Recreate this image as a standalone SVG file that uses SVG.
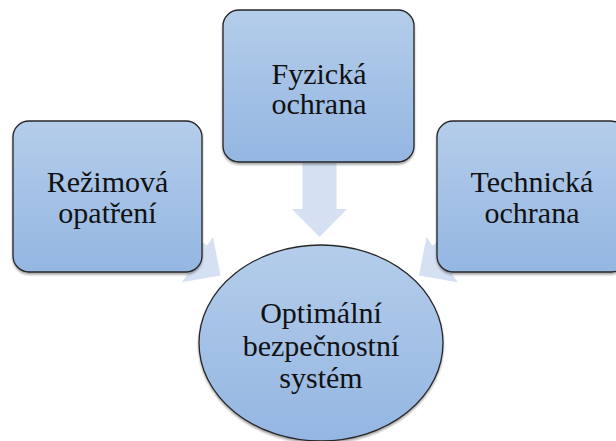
<svg xmlns="http://www.w3.org/2000/svg" width="616" height="441" viewBox="0 0 616 441">
  <defs>
    <linearGradient id="fillGrad" x1="0" y1="0" x2="0" y2="1">
      <stop offset="0" stop-color="#b4cdea"/>
      <stop offset="1" stop-color="#94b6e2"/>
    </linearGradient>
    <filter id="shade" x="-10%" y="-10%" width="120%" height="125%">
      <feGaussianBlur in="SourceAlpha" stdDeviation="1.2"/>
      <feOffset dx="0" dy="1.5" result="b"/>
      <feComponentTransfer><feFuncA type="linear" slope="0.35"/></feComponentTransfer>
      <feMerge><feMergeNode/><feMergeNode in="SourceGraphic"/></feMerge>
    </filter>
  </defs>
  <style>
    .shape { fill: url(#fillGrad); stroke: #262626; stroke-width: 1.3; filter: url(#shade); }
    .arrow { fill: #d5e1f2; stroke: none; }
    .label { font-family: "Liberation Serif", "Times New Roman", serif; font-size: 30px; fill: #111; text-anchor: middle; }
  </style>
  <rect width="616" height="441" fill="#ffffff"/>

  <!-- block arrows pointing into the central ellipse -->
  <g id="connectors">
    <path class="arrow" d="M302.5,163 H336.5 V209 H347 L319.5,237 L292,209 H302.5 Z"/>
    <path class="arrow" transform="translate(220.5,275.5) rotate(34.6)" d="M-74,-17 H-28 V-27.5 L0,0 L-28,27.5 V17 H-74 Z"/>
    <path class="arrow" transform="translate(419,275.5) rotate(145.4)" d="M-74,-17 H-28 V-27.5 L0,0 L-28,27.5 V17 H-74 Z"/>
  </g>

  <g id="fyzicka">
    <rect class="shape" x="223" y="10" width="191" height="152" rx="16"/>
    <text class="label" x="319" y="84">Fyzická</text>
    <text class="label" x="319" y="114">ochrana</text>
  </g>

  <g id="rezimova">
    <rect class="shape" x="13" y="121" width="189" height="151" rx="16"/>
    <text class="label" x="107.5" y="192">Režimová</text>
    <text class="label" x="107.5" y="223">opatření</text>
  </g>

  <g id="technicka">
    <rect class="shape" x="437" y="121" width="190" height="151" rx="16"/>
    <text class="label" x="532" y="192">Technická</text>
    <text class="label" x="532" y="223">ochrana</text>
  </g>

  <g id="optimalni">
    <ellipse class="shape" cx="321" cy="343" rx="122" ry="98"/>
    <text class="label" x="321" y="323">Optimální</text>
    <text class="label" x="321" y="356">bezpečnostní</text>
    <text class="label" x="321" y="388">systém</text>
  </g>
</svg>
